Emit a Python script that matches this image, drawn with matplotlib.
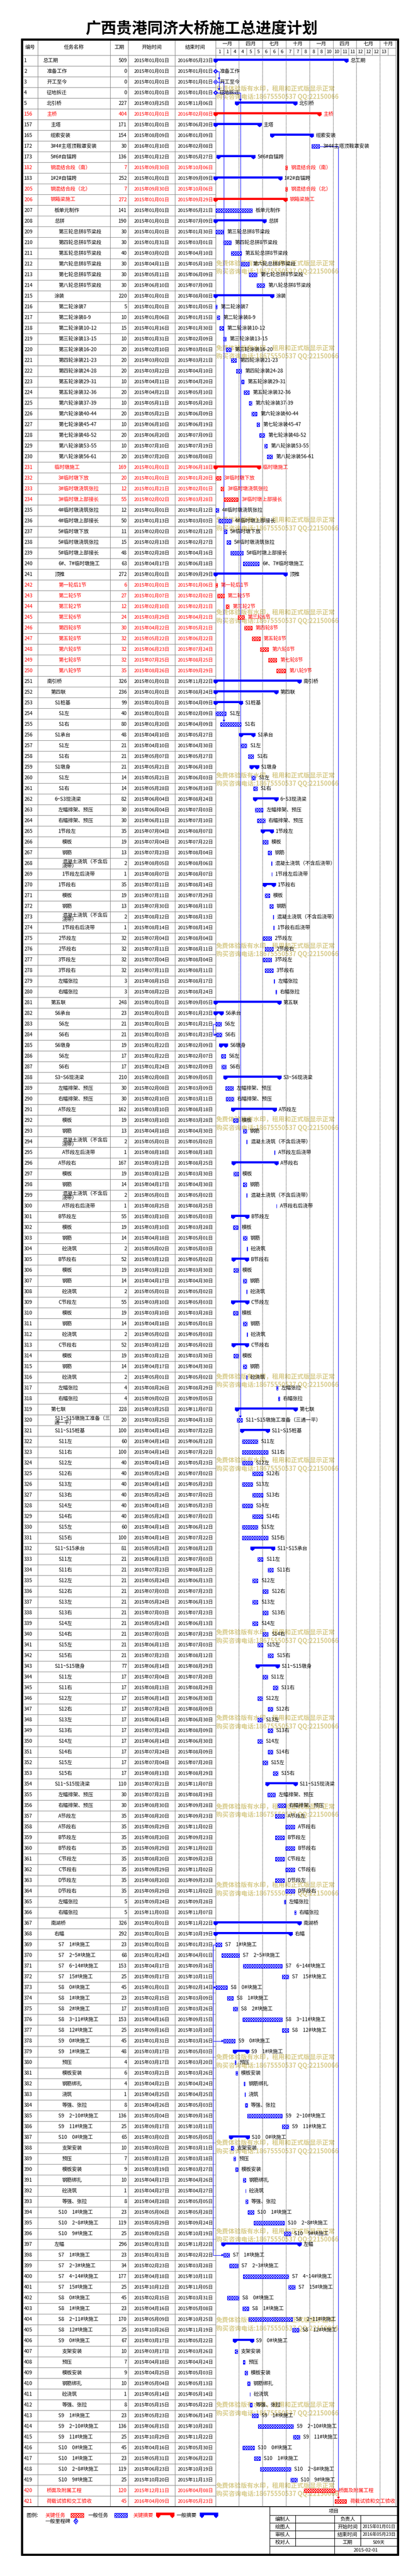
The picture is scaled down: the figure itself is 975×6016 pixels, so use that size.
import datetime as dt
import matplotlib
matplotlib.use('Agg')
import matplotlib.pyplot as plt
from matplotlib.patches import Rectangle, Polygon
from matplotlib.transforms import blended_transform_factory

plt.rcParams['font.family'] = ['Noto Sans CJK SC', 'DejaVu Sans']
plt.rcParams['hatch.linewidth'] = 0.95

# ---------------- data ----------------
title = '广西贵港同济大桥施工总进度计划'
col_headers = ['编号', '任务名称', '工期', '开始时间', '结束时间']
quarter_starts = ['2015-01-01', '2015-04-01', '2015-07-01', '2015-10-01',
                  '2016-01-01', '2016-04-01', '2016-07-01', '2016-10-01', '2016-12-01']
quarter_labels = ['一月', '四月', '七月', '十月', '一月', '四月', '七月', '十月']
month_starts = ['2015-01-01', '2015-02-01', '2015-03-01', '2015-04-01', '2015-05-01', '2015-06-01',
                '2015-07-01', '2015-08-01', '2015-09-01', '2015-10-01', '2015-11-01', '2015-12-01',
                '2016-01-01', '2016-02-01', '2016-03-01', '2016-04-01', '2016-05-01', '2016-06-01',
                '2016-07-01', '2016-08-01', '2016-09-01', '2016-10-01', '2016-11-01', '2016-12-01']
month_labels = ['1', '1', '4', '4', '5', '5', '6', '6', '6', '7', '7', '8',
                '8', '8', '10', '10', '11', '11', '12', '12', '12', '13', '']

task_ids = [1, 2, 3, 4, 5, 156, 157, 165, 172, 173, 182, 183] + list(range(205, 422))

task_levels = [
    1, 2, 2, 2, 2,
    2, 3, 3, 3, 3,
    3, 3,
    3, 3, 4, 4,
    5, 5, 5, 5, 5, 5,
    4, 5, 5, 5, 5, 5, 5, 5, 5, 5, 5, 5, 5, 5, 5, 5,
    4, 5, 5, 5, 5, 5, 5, 5, 5, 5,
    4, 5, 5, 5, 5, 5, 5, 5, 5, 5,
    2, 3, 4, 5, 5, 4, 5, 5, 4, 5, 5,
    4, 5, 5,
    5, 6, 6, 6, 6,
    5, 6, 6, 6, 6,
    5, 5, 5, 5, 5, 5,
    3, 4, 5, 5, 4, 5, 5,
    4, 5, 5,
    5, 6, 6, 6, 6,
    5, 6, 6, 6, 6,
    5, 6, 6, 6,
    5, 6, 6, 6,
    5, 6, 6, 6,
    5, 6, 6, 6,
    5, 5,
    3, 4,
    4, 5, 5, 5, 5, 5, 5, 5, 5, 5, 5,
    4, 5, 5, 5, 5, 5, 5, 5, 5, 5, 5,
    4, 5, 5, 5, 5, 5, 5, 5, 5, 5, 5,
    4, 5, 5, 5, 5, 5, 5, 5, 5, 5, 5, 5, 5,
    3, 4,
    5, 5, 5, 5,
    5, 5, 5, 5, 5,
    5, 5, 6, 6, 6, 6, 6,
    5, 5,
    5, 6, 6, 6, 6, 6, 6,
    5, 5, 5,
    4,
    5, 5, 5, 5,
    5, 5, 5, 5,
    5, 6, 6, 6, 6, 6, 6,
    5, 5, 5,
    5, 5, 5, 5,
    2, 2]

task_names = [
    '总工期', '准备工作', '开工至今', '征地拆迁', '北引桥',
    '主桥', '主塔', '缆索安装', '3#4#主塔顶鞍罩安装', '5#6#自锚跨',
    '钢混结合段（南）', '1#2#自锚跨',
    '钢混结合段（北）', '钢箱梁施工', '板单元制作', '总拼',
    '第三轮总拼8节梁段', '第四轮总拼8节梁段', '第五轮总拼8节梁段', '第六轮总拼8节梁段', '第七轮总拼8节梁段', '第八轮总拼8节梁段',
    '涂装', '第二轮涂装7', '第二轮涂装8-9', '第二轮涂装10-12', '第三轮涂装13-15', '第三轮涂装16-20',
    '第四轮涂装21-23', '第四轮涂装24-28', '第五轮涂装29-31', '第五轮涂装32-36', '第六轮涂装37-39',
    '第六轮涂装40-44', '第七轮涂装45-47', '第七轮涂装48-52', '第八轮涂装53-55', '第八轮涂装56-61',
    '临时墩施工', '3#临时墩下放', '3#临时墩浇筑张拉', '3#临时墩上部接长', '4#临时墩浇筑张拉', '4#临时墩上部接长',
    '5#临时墩下放', '5#临时墩浇筑张拉', '5#临时墩上部接长', '6#、7#临时墩施工',
    '顶推', '第一轮后1节', '第二轮5节', '第三轮2节', '第三轮6节', '第四轮8节', '第五轮8节', '第六轮8节', '第七轮8节', '第八轮9节',
    '南引桥', '第四联', 'S1桩基', 'S1左', 'S1右', 'S1承台', 'S1左', 'S1右', 'S1墩身', 'S1左', 'S1右',
    '6~S3现浇梁', '左幅排架、预压', '右幅排架、预压',
    '1节段左', '模板', '钢筋', '混凝土浇筑（不含后浇带）', '1节段左后浇带',
    '1节段右', '模板', '钢筋', '混凝土浇筑（不含后浇带）', '1节段右后浇带',
    '2节段左', '2节段右', '3节段左', '3节段右', '左幅张拉', '右幅张拉',
    '第五联', 'S6承台', 'S6左', 'S6右', 'S6墩身', 'S6左', 'S6右',
    'S3~S6现浇梁', '左幅排架、预压', '右幅排架、预压',
    'A节段左', '模板', '钢筋', '混凝土浇筑（不含后浇带）', 'A节段左后浇带',
    'A节段右', '模板', '钢筋', '混凝土浇筑（不含后浇带）', 'A节段右后浇带',
    'B节段左', '模板', '钢筋', '砼浇筑',
    'B节段右', '模板', '钢筋', '砼浇筑',
    'C节段左', '模板', '钢筋', '砼浇筑',
    'C节段右', '模板', '钢筋', '砼浇筑',
    '左幅张拉', '右幅张拉',
    '第七联', 'S11~S15墩施工准备（三通一平）',
    'S11~S15桩基', 'S11左', 'S11右', 'S12左', 'S12右', 'S13左', 'S13右', 'S14左', 'S14右', 'S15左', 'S15右',
    'S11~S15承台', 'S11左', 'S11右', 'S12左', 'S12右', 'S13左', 'S13右', 'S14左', 'S14右', 'S15左', 'S15右',
    'S11~S15墩身', 'S11左', 'S11右', 'S12左', 'S12右', 'S13左', 'S13右', 'S14左', 'S14右', 'S15左', 'S15右',
    'S11~S15现浇梁', '左幅排架、预压', '右幅排架、预压', 'A节段左', 'A节段右', 'B节段左', 'B节段右',
    'C节段左', 'C节段右', 'D节段左', 'D节段右', '左幅张拉', '右幅张拉',
    '南湖桥', '右幅',
    'S7\u30001#块施工', 'S7\u30002~5#块施工', 'S7\u30006~14#块施工', 'S7\u300015#块施工',
    'S8\u30000#块施工', 'S8\u30001#块施工', 'S8\u30002#块施工', 'S8\u30003~11#块施工', 'S8\u300012#块施工',
    'S9\u30000#块施工', 'S9\u30001#块施工', '预压', '模板安装', '钢筋绑扎', '浇筑', '等强、张拉',
    'S9\u30002~10#块施工', 'S9\u300011#块施工',
    'S10\u30000#块施工', '支架安装', '预压', '模板安装', '钢筋绑扎', '砼浇筑', '等强、张拉',
    'S10\u30001#块施工', 'S10\u30002~8#块施工', 'S10\u30009#块施工',
    '左幅',
    'S7\u30001#块施工', 'S7\u30002~3#块施工', 'S7\u30004~14#块施工', 'S7\u300015#块施工',
    'S8\u30000#块施工', 'S8\u30001#块施工', 'S8\u30002~11#块施工', 'S8\u300012#块施工',
    'S9\u30000#块施工', '支架安装', '预压', '模板安装', '钢筋绑扎', '砼浇筑', '等强、张拉',
    'S9\u30001#块施工', 'S9\u30002~10#块施工', 'S9\u300011#块施工',
    'S10\u30000#块施工', 'S10\u30001#块施工', 'S10\u30002~8#块施工', 'S10\u30009#块施工',
    '桥面及附属工程', '荷载试验和交工验收']

task_durations = [
    509, 0, 0, 0, 227,
    404, 171, 154, 30, 136,
    7, 252,
    7, 272, 141, 190,
    30, 30, 40, 30, 30, 30,
    220, 5, 10, 15, 10, 20, 20, 20, 10, 20, 10, 20, 10, 20, 10, 20,
    169, 20, 12, 55, 12, 50, 11, 15, 48, 63,
    272, 6, 27, 12, 24, 30, 32, 32, 32, 35,
    326, 236, 99, 40, 80, 48, 21, 21, 21, 14, 14,
    82, 30, 30,
    35, 19, 13, 2, 1,
    35, 19, 13, 2, 1,
    32, 32, 32, 32, 3, 3,
    248, 23, 21, 21, 19, 17, 17,
    210, 30, 30,
    162, 19, 13, 2, 1,
    167, 19, 14, 2, 1,
    55, 19, 14, 2,
    52, 19, 14, 2,
    55, 19, 14, 2,
    52, 19, 14, 2,
    4, 4,
    228, 20,
    100, 60, 100, 40, 40, 40, 40, 40, 40, 60, 100,
    81, 21, 21, 21, 21, 21, 21, 21, 21, 21, 21,
    77, 17, 17, 17, 17, 17, 17, 17, 17, 17, 17,
    110, 30, 30, 35, 35, 35, 35, 35, 35, 35, 35, 5, 5,
    326, 292,
    23, 68, 153, 25,
    45, 23, 17, 153, 25,
    45, 48, 4, 6, 4, 1, 8,
    136, 25,
    65, 10, 7, 9, 10, 1, 8,
    23, 119, 25,
    296,
    23, 34, 177, 25,
    45, 23, 170, 25,
    67, 10, 7, 9, 10, 1, 8,
    23, 136, 25,
    45, 23, 119, 25,
    120, 45]

task_starts = [
    '2015-01-01', '2015-01-01', '2015-01-01', '2015-01-01', '2015-03-25',
    '2015-01-01', '2015-01-01', '2015-08-09', '2016-01-10', '2015-01-12',
    '2015-09-30', '2015-01-01',
    '2015-09-30', '2015-01-01', '2015-01-01', '2015-01-01',
    '2015-01-01', '2015-01-31', '2015-03-02', '2015-04-11', '2015-05-11', '2015-06-10',
    '2015-01-01', '2015-01-01', '2015-01-06', '2015-01-16', '2015-01-31', '2015-02-10', '2015-03-02', '2015-03-22',
    '2015-04-11', '2015-04-21', '2015-05-11', '2015-05-21', '2015-06-10', '2015-06-20', '2015-07-10', '2015-07-20',
    '2015-01-01', '2015-01-01', '2015-01-21', '2015-02-02', '2015-01-01', '2015-01-13', '2015-02-02', '2015-02-13',
    '2015-02-28', '2015-04-17',
    '2015-01-01', '2015-01-01', '2015-01-07', '2015-02-10', '2015-03-29', '2015-04-22', '2015-05-22', '2015-06-23',
    '2015-07-25', '2015-08-26',
    '2015-01-01', '2015-01-01', '2015-01-01', '2015-01-01', '2015-01-20', '2015-04-10', '2015-04-10', '2015-05-07',
    '2015-05-21', '2015-05-21', '2015-05-28',
    '2015-06-04', '2015-06-04', '2015-06-11',
    '2015-07-04', '2015-07-04', '2015-07-23', '2015-08-05', '2015-08-07',
    '2015-07-11', '2015-07-11', '2015-07-30', '2015-08-12', '2015-08-14',
    '2015-07-04', '2015-07-11', '2015-07-04', '2015-07-11', '2015-08-15', '2015-08-22',
    '2015-01-01', '2015-01-01', '2015-01-01', '2015-01-03', '2015-01-22', '2015-01-22', '2015-01-24',
    '2015-02-08', '2015-02-08', '2015-02-10',
    '2015-03-10', '2015-03-10', '2015-04-18', '2015-05-01', '2015-08-18',
    '2015-03-12', '2015-03-12', '2015-04-17', '2015-05-01', '2015-08-25',
    '2015-03-10', '2015-03-10', '2015-04-18', '2015-05-02',
    '2015-03-12', '2015-03-12', '2015-04-17', '2015-05-01',
    '2015-03-10', '2015-03-10', '2015-04-18', '2015-05-02',
    '2015-03-12', '2015-03-12', '2015-04-17', '2015-05-01',
    '2015-08-26', '2015-09-02',
    '2015-03-25', '2015-03-25',
    '2015-04-14', '2015-04-14', '2015-04-14', '2015-04-14', '2015-05-24', '2015-04-14', '2015-05-24', '2015-04-14',
    '2015-05-24', '2015-04-14', '2015-04-14',
    '2015-05-24', '2015-06-13', '2015-07-23', '2015-05-24', '2015-07-03', '2015-05-24', '2015-07-03', '2015-05-24',
    '2015-07-03', '2015-06-13', '2015-07-23',
    '2015-06-14', '2015-07-04', '2015-08-13', '2015-06-14', '2015-07-24', '2015-06-14', '2015-07-24', '2015-06-14',
    '2015-07-24', '2015-07-04', '2015-08-13',
    '2015-07-21', '2015-07-21', '2015-08-30', '2015-08-20', '2015-09-29', '2015-08-20', '2015-09-29', '2015-08-20',
    '2015-09-29', '2015-08-20', '2015-09-29', '2015-09-24', '2015-11-03',
    '2015-01-01', '2015-01-01',
    '2015-01-01', '2015-01-24', '2015-04-17', '2015-09-17',
    '2015-01-01', '2015-02-15', '2015-03-10', '2015-04-16', '2015-09-16',
    '2015-01-31', '2015-03-17', '2015-03-17', '2015-03-21', '2015-04-21', '2015-04-25', '2015-04-26',
    '2015-05-04', '2015-09-17',
    '2015-03-02', '2015-03-02', '2015-03-12', '2015-03-19', '2015-04-17', '2015-04-27', '2015-04-28',
    '2015-05-06', '2015-05-29', '2015-09-25',
    '2015-01-31',
    '2015-01-31', '2015-02-23', '2015-04-18', '2015-10-12',
    '2015-02-15', '2015-04-16', '2015-05-09', '2015-10-26',
    '2015-03-17', '2015-03-17', '2015-04-18', '2015-04-25', '2015-05-04', '2015-05-14', '2015-05-15',
    '2015-05-23', '2015-06-15', '2015-10-29',
    '2015-04-16', '2015-05-31', '2015-06-23', '2015-10-20',
    '2015-12-11', '2016-04-09']

task_ends = [
    '2016-05-23', '2015-01-01', '2015-01-01', '2015-01-01', '2015-11-06',
    '2016-02-08', '2015-06-20', '2016-01-09', '2016-02-08', '2015-05-27',
    '2015-10-06', '2015-09-09',
    '2015-10-06', '2015-09-29', '2015-05-21', '2015-07-09',
    '2015-01-30', '2015-03-01', '2015-04-10', '2015-05-10', '2015-06-09', '2015-07-09',
    '2015-08-08', '2015-01-05', '2015-01-15', '2015-01-30', '2015-02-09', '2015-03-01', '2015-03-21', '2015-04-10',
    '2015-04-20', '2015-05-10', '2015-05-20', '2015-06-09', '2015-06-19', '2015-07-09', '2015-07-19', '2015-08-08',
    '2015-06-18', '2015-01-20', '2015-02-01', '2015-03-28', '2015-01-12', '2015-03-03', '2015-02-12', '2015-02-27',
    '2015-04-16', '2015-06-18',
    '2015-09-29', '2015-01-06', '2015-02-02', '2015-02-21', '2015-04-21', '2015-05-21', '2015-06-22', '2015-07-24',
    '2015-08-25', '2015-09-29',
    '2015-11-22', '2015-08-24', '2015-04-09', '2015-02-09', '2015-04-09', '2015-05-27', '2015-04-30', '2015-05-27',
    '2015-06-10', '2015-06-03', '2015-06-10',
    '2015-08-24', '2015-07-03', '2015-07-10',
    '2015-08-07', '2015-07-22', '2015-08-04', '2015-08-06', '2015-08-07',
    '2015-08-14', '2015-07-29', '2015-08-11', '2015-08-13', '2015-08-14',
    '2015-08-04', '2015-08-11', '2015-08-04', '2015-08-11', '2015-08-17', '2015-08-24',
    '2015-09-05', '2015-01-23', '2015-01-21', '2015-01-23', '2015-02-09', '2015-02-07', '2015-02-09',
    '2015-09-05', '2015-03-09', '2015-03-11',
    '2015-08-18', '2015-03-28', '2015-04-30', '2015-05-02', '2015-08-18',
    '2015-08-25', '2015-03-30', '2015-04-30', '2015-05-02', '2015-08-25',
    '2015-05-03', '2015-03-28', '2015-05-01', '2015-05-03',
    '2015-05-02', '2015-03-30', '2015-04-30', '2015-05-02',
    '2015-05-03', '2015-03-28', '2015-05-01', '2015-05-03',
    '2015-05-02', '2015-03-30', '2015-04-30', '2015-05-02',
    '2015-08-29', '2015-09-05',
    '2015-11-07', '2015-04-13',
    '2015-07-22', '2015-06-12', '2015-07-22', '2015-05-23', '2015-07-02', '2015-05-23', '2015-07-02', '2015-05-23',
    '2015-07-02', '2015-06-12', '2015-07-22',
    '2015-08-12', '2015-07-03', '2015-08-12', '2015-06-13', '2015-07-23', '2015-06-13', '2015-07-23', '2015-06-13',
    '2015-07-23', '2015-07-03', '2015-08-12',
    '2015-08-29', '2015-07-20', '2015-08-29', '2015-06-30', '2015-08-09', '2015-06-30', '2015-08-09', '2015-06-30',
    '2015-08-09', '2015-07-20', '2015-08-29',
    '2015-11-07', '2015-08-19', '2015-09-28', '2015-09-23', '2015-11-02', '2015-09-23', '2015-11-02', '2015-09-23',
    '2015-11-02', '2015-09-23', '2015-11-02', '2015-09-28', '2015-11-07',
    '2015-11-22', '2015-10-19',
    '2015-01-23', '2015-04-01', '2015-09-16', '2015-10-11',
    '2015-02-14', '2015-03-09', '2015-03-26', '2015-09-15', '2015-10-10',
    '2015-03-16', '2015-05-03', '2015-03-20', '2015-03-26', '2015-04-24', '2015-04-25', '2015-05-03',
    '2015-09-16', '2015-10-11',
    '2015-05-05', '2015-03-11', '2015-03-18', '2015-03-27', '2015-04-26', '2015-04-27', '2015-05-05',
    '2015-05-28', '2015-09-24', '2015-10-19',
    '2015-11-22',
    '2015-02-22', '2015-03-28', '2015-10-11', '2015-11-05',
    '2015-03-31', '2015-05-08', '2015-10-25', '2015-11-19',
    '2015-05-22', '2015-03-26', '2015-04-24', '2015-05-03', '2015-05-13', '2015-05-14', '2015-05-22',
    '2015-06-14', '2015-10-28', '2015-11-22',
    '2015-05-30', '2015-06-22', '2015-10-19', '2015-11-13',
    '2016-04-08', '2016-05-23']

summary_ids = [1, 5, 156, 157, 165, 173, 183, 206, 208, 215, 231, 241, 251, 252, 253, 256, 259, 262, 265,
               270, 281, 282, 285, 288, 291, 296, 301, 305, 309, 313, 319, 321, 332, 343, 354, 367, 368,
               379, 387, 397, 406]
critical_ids = [156, 182, 205, 206, 231, 232, 233, 234, 242, 243, 244, 245, 246, 247, 248, 249, 250, 420, 421]
milestone_ids = [2, 3, 4]

# finish-to-start links (predecessor id, successor id)
fs_links = [(2, 3), (2, 4), (3, 255), (4, 5), (4, 320), (172, 421), (420, 421)]
# start-to-start links drawn on the left of the bars
ss_links = [(283, 284), (369, 373), (369, 378), (369, 398)]

watermark_lines = ['免费体验版有水印，租用和正式版显示正常', '购买咨询电话:18675550537 QQ:22150066']
watermark_y = [217, 625, 823, 1224, 1440, 1821, 2219, 2624, 3225, 3420, 3822, 4022, 4229, 4412,
               4814, 5014, 5221, 5428, 5626, 5815]

footer_left = ['编制人', '绘图人', '审核人', '校对人']
footer_mid = ['负责人', '开始时间', '结束时间', '工期']
footer_val = ['', '2015年01月01日', '2016年05月23日', '509天']
footer_date = '2015-02-01'

n = len(task_ids)
assert all(len(a) == n for a in (task_levels, task_names, task_durations, task_starts, task_ends))

# ---------------- helpers ----------------
T0 = dt.date(2015, 1, 1)


def day(s):
    y, m, d = map(int, s.split('-'))
    return (dt.date(y, m, d) - T0).days


def cn_date(s):
    y, m, d = s.split('-')
    return f'{y}年{m}月{d}日'


FS = 8.5
EM = FS * 100 / 72


def wrap(text, avail):
    lines, cur, w = [], '', 0.0
    for ch in text:
        cw = 0.5 if ord(ch) < 128 else 1.0
        if (w + cw) * EM > avail and cur:
            lines.append(cur)
            cur, w = ch, cw
        else:
            cur += ch
            w += cw
    lines.append(cur)
    return lines


RED, BLUE, GRID = '#ff0000', '#0000ff', '#808080'
WMC = '#d8cc8c'
HATCH = 'xxxxxx'

# ---------------- layout ----------------
W, H = 975, 6016
XL, XR = 50.5, 927.5
COLS = [53, 88, 257, 299, 408, 503]
GX1 = 923
YT, YM, YB0, RH = 91.5, 112, 129, 25
YB1 = YB0 + n * RH
YF = 5966
PXD = 0.6

fig = plt.figure(figsize=(W / 100, H / 100), dpi=100)
bg = fig.add_axes([0, 0, 1, 1])
bg.set_xlim(0, W)
bg.set_ylim(H, 0)
bg.axis('off')

ax = fig.add_axes([COLS[-1] / W, 1 - YB1 / H, (GX1 - COLS[-1]) / W, (YB1 - YB0) / H])
ax.set_xlim(0, (GX1 - COLS[-1]) / PXD)
ax.set_ylim(n, 0)
ax.axis('off')
ax.set_facecolor('none')
hdr = blended_transform_factory(ax.transData, bg.transData)


def dxp(p):
    return p / PXD


def dyp(p):
    return p / RH


bg.text((COLS[0] + GX1) / 2 - 18, 68, title, fontsize=26, ha='center', va='center', fontweight='bold')

# ---------------- table grid ----------------
lw1 = 0.75
for i in range(n + 1):
    y = YB0 + i * RH
    bg.plot([COLS[0], COLS[-1]], [y, y], color=GRID, lw=lw1)
for x in COLS[1:]:
    bg.plot([x, x], [YT, YB1], color=GRID, lw=lw1)
bg.plot([GX1, GX1], [YT, YB1], color=GRID, lw=lw1)
bg.plot([COLS[-1], GX1], [YM, YM], color=GRID, lw=lw1)
bg.plot([COLS[-1], GX1], [YB0, YB0], color=GRID, lw=lw1)

hx = [(COLS[k] + COLS[k + 1]) / 2 for k in range(5)]
for k, t in enumerate(col_headers):
    bg.text(hx[k], (YT + YB0) / 2, t, fontsize=FS, ha='center', va='center')

for k, lab in enumerate(quarter_labels):
    a, b = day(quarter_starts[k]), min(day(quarter_starts[k + 1]), ax.get_xlim()[1])
    bg.text((a + b) / 2, (YT + YM) / 2 + 1, lab, transform=hdr, fontsize=FS, ha='center', va='center')
    if k > 0:
        bg.plot([a, a], [YT, YM], color=GRID, lw=lw1, transform=hdr)
for k, lab in enumerate(month_labels):
    a, b = day(month_starts[k]), min(day(month_starts[k + 1]), ax.get_xlim()[1])
    bg.text((a + b) / 2, (YM + YB0) / 2 + 0.5, lab, transform=hdr, fontsize=8, ha='center', va='center')
    if k > 0:
        bg.plot([a, a], [YM, YB0], color=GRID, lw=lw1, transform=hdr)

for q in quarter_starts[1:-1]:
    ax.axvline(day(q), color='black', lw=0.9, ls=(0, (1, 1.5)))

# ---------------- rows ----------------
row_of = {tid: i for i, tid in enumerate(task_ids)}
for i in range(n):
    tid = task_ids[i]
    crit = tid in critical_ids
    tc = RED if crit else 'black'
    yc = YB0 + RH * (i + 0.5)
    bg.text(COLS[0] + 3, yc, str(tid), fontsize=FS, color=tc, va='center', ha='left')
    xn = 100 + 9 * (task_levels[i] - 1)
    lines = wrap(task_names[i], COLS[2] - 2 - xn)
    if len(lines) == 1:
        bg.text(xn, yc, lines[0], fontsize=FS, color=tc, va='center', ha='left')
    else:
        bg.text(xn, yc - 4, lines[0], fontsize=FS, color=tc, va='center', ha='left')
        bg.text(xn, yc + 6, lines[1], fontsize=FS, color=tc, va='center', ha='left')
    bg.text(COLS[3] - 3, yc, str(task_durations[i]), fontsize=FS, color=tc, va='center', ha='right')
    bg.text(hx[3], yc, cn_date(task_starts[i]), fontsize=8, color=tc, va='center', ha='center')
    bg.text(hx[4], yc, cn_date(task_ends[i]), fontsize=8, color=tc, va='center', ha='center')

    col = RED if crit else BLUE
    y = i + 0.5
    xs, xe = day(task_starts[i]), day(task_ends[i]) + 1
    if tid in milestone_ids:
        h, v = dxp(5), dyp(5)
        ax.add_patch(Polygon([(xs - h, y), (xs, y - v), (xs + h, y), (xs, y + v)], closed=True,
                             fc='white', ec=col, lw=0.8, hatch=HATCH, clip_on=False, zorder=3))
        xl = xs + dxp(9)
    elif tid in summary_ids:
        top, bot = y - dyp(4.5), y + dyp(0.5)
        h = dxp(5)
        ax.add_patch(Rectangle((xs - h, top), xe - xs + 2 * h, bot - top, fc=col, ec='none', clip_on=False, zorder=3))
        for xc in (xs, xe):
            ax.add_patch(Polygon([(xc - h, bot), (xc + h, bot), (xc + h, bot + dyp(1.5)), (xc, y + dyp(5.5)),
                                  (xc - h, bot + dyp(1.5))], closed=True, fc=col, ec='none', clip_on=False, zorder=3))
        xl = xe + dxp(9)
    else:
        ax.add_patch(Rectangle((xs, y - dyp(4.5)), xe - xs, dyp(9), fc='white', ec=col, lw=0.8,
                               hatch=HATCH, clip_on=False, zorder=3))
        xl = xe + dxp(8)
    ax.text(xl, y, task_names[i], fontsize=FS, color=tc, va='center', ha='left', clip_on=False, zorder=4)

# ---------------- links ----------------
for p, s in fs_links:
    ip, is_ = row_of[p], row_of[s]
    pe = day(task_ends[ip]) + (0 if p in milestone_ids else 1)
    if p in milestone_ids:
        pe += dxp(5)
    ss = day(task_starts[is_])
    xv = max(ss + dxp(8), pe + dxp(3))
    c = RED if (p in critical_ids and s in critical_ids) else BLUE
    y0 = ip + 0.5
    y1 = is_ + 0.5 - dyp(6)
    ax.plot([pe, xv, xv], [y0, y0, y1 - dyp(3)], color=c, lw=0.8, clip_on=False, zorder=2)
    ax.add_patch(Polygon([(xv - dxp(2.5), y1 - dyp(4)), (xv + dxp(2.5), y1 - dyp(4)), (xv, y1)], closed=True,
                         fc=c, ec=c, lw=0.5, clip_on=False, zorder=2))

for p, s in ss_links:
    ip, is_ = row_of[p], row_of[s]
    ps, ss = day(task_starts[ip]), day(task_starts[is_])
    xv = min(ps, ss) - dxp(6)
    y0, y1 = ip + 0.5, is_ + 0.5
    ax.plot([ps, xv, xv, ss - dxp(3)], [y0, y0, y1, y1], color=BLUE, lw=0.8, clip_on=False, zorder=2)
    ax.add_patch(Polygon([(ss - dxp(4), y1 - dyp(2.5)), (ss - dxp(4), y1 + dyp(2.5)), (ss, y1)], closed=True,
                         fc=BLUE, ec=BLUE, lw=0.5, clip_on=False, zorder=2))

# ---------------- watermarks ----------------
for yw in watermark_y:
    bg.text(COLS[-1] + 1, yw - 9.5, watermark_lines[0], fontsize=10.5, color=WMC, fontweight='bold',
            va='center', ha='left', zorder=5)
    bg.text(COLS[-1] + 1, yw + 9.5, watermark_lines[1], fontsize=10.5, color=WMC, fontweight='bold',
            va='center', ha='left', zorder=5)

# ---------------- footer ----------------
bg.plot([COLS[0], XR], [YB1, YB1], color='black', lw=1.4)
bg.text(62, 5874, '图例:', fontsize=FS, va='center')
bg.text(105, 5874, '关键任务', fontsize=FS, color=RED, va='center')
bg.add_patch(Rectangle((165, 5869), 30, 10, fc='white', ec=RED, lw=0.8, hatch=HATCH))
bg.text(206, 5874, '一般任务', fontsize=FS, va='center')
bg.add_patch(Rectangle((267, 5869), 30, 10, fc='white', ec=BLUE, lw=0.8, hatch=HATCH))
bg.text(310, 5874, '关键摘要', fontsize=FS, color=RED, va='center')
bg.text(412, 5874, '一般摘要', fontsize=FS, va='center')
for (x0, x1, c) in ((364, 407, RED), (466, 509, BLUE)):
    bg.add_patch(Rectangle((x0, 5868), x1 - x0, 6, fc=c, ec='none'))
    for xc in (x0 + 5, x1 - 5):
        bg.add_patch(Polygon([(xc - 5, 5874), (xc + 5, 5874), (xc + 5, 5876), (xc, 5881), (xc - 5, 5876)],
                             closed=True, fc=c, ec='none'))
bg.text(105, 5888, '一般里程碑', fontsize=FS, va='center')
bg.add_patch(Polygon([(172, 5888), (177, 5881), (182, 5888), (177, 5895)], closed=True,
                     fc='white', ec=BLUE, lw=0.8, hatch=HATCH))

FX = [629, 689, 780, 841, 927]
FY = [YB1, 5874, 5892, 5910, 5928, 5946, YF]
bg.plot([FX[0], FX[0]], [YB1, YF], color='black', lw=0.9)
for yy in FY[1:-1]:
    bg.plot([FX[0], FX[-1]], [yy, yy], color='black', lw=0.9)
for x in (FX[1], FX[3]):
    bg.plot([x, x], [FY[1], FY[5]], color='black', lw=0.9)
bg.plot([FX[2], FX[2]], [FY[1], FY[6]], color='black', lw=0.9)
bg.text((FX[0] + FX[-1]) / 2, (FY[0] + FY[1]) / 2, '项目', fontsize=FS, ha='center', va='center')
for k in range(4):
    yc = (FY[k + 1] + FY[k + 2]) / 2
    bg.text((FX[0] + FX[1]) / 2, yc, footer_left[k], fontsize=FS, ha='center', va='center')
    bg.text((FX[2] + FX[3]) / 2, yc, footer_mid[k], fontsize=FS, ha='center', va='center')
    bg.text((FX[3] + FX[4]) / 2, yc, footer_val[k], fontsize=7.5, ha='center', va='center')
bg.text((FX[2] + FX[4]) / 2, (FY[5] + FY[6]) / 2, footer_date, fontsize=8, ha='center', va='center')

for (xa, ya, xb, yb) in ((XL, YT - 1.5, XL, YF + 1.5), (XR, YT - 1.5, XR, YF + 1.5),
                         (XL - 2, YT, XR + 2, YT), (XL - 2, YF, XR + 2, YF)):
    bg.plot([xa, xb], [ya, yb], color='black', lw=3.6, solid_capstyle='butt')

fig.savefig('out.png', dpi=100)
